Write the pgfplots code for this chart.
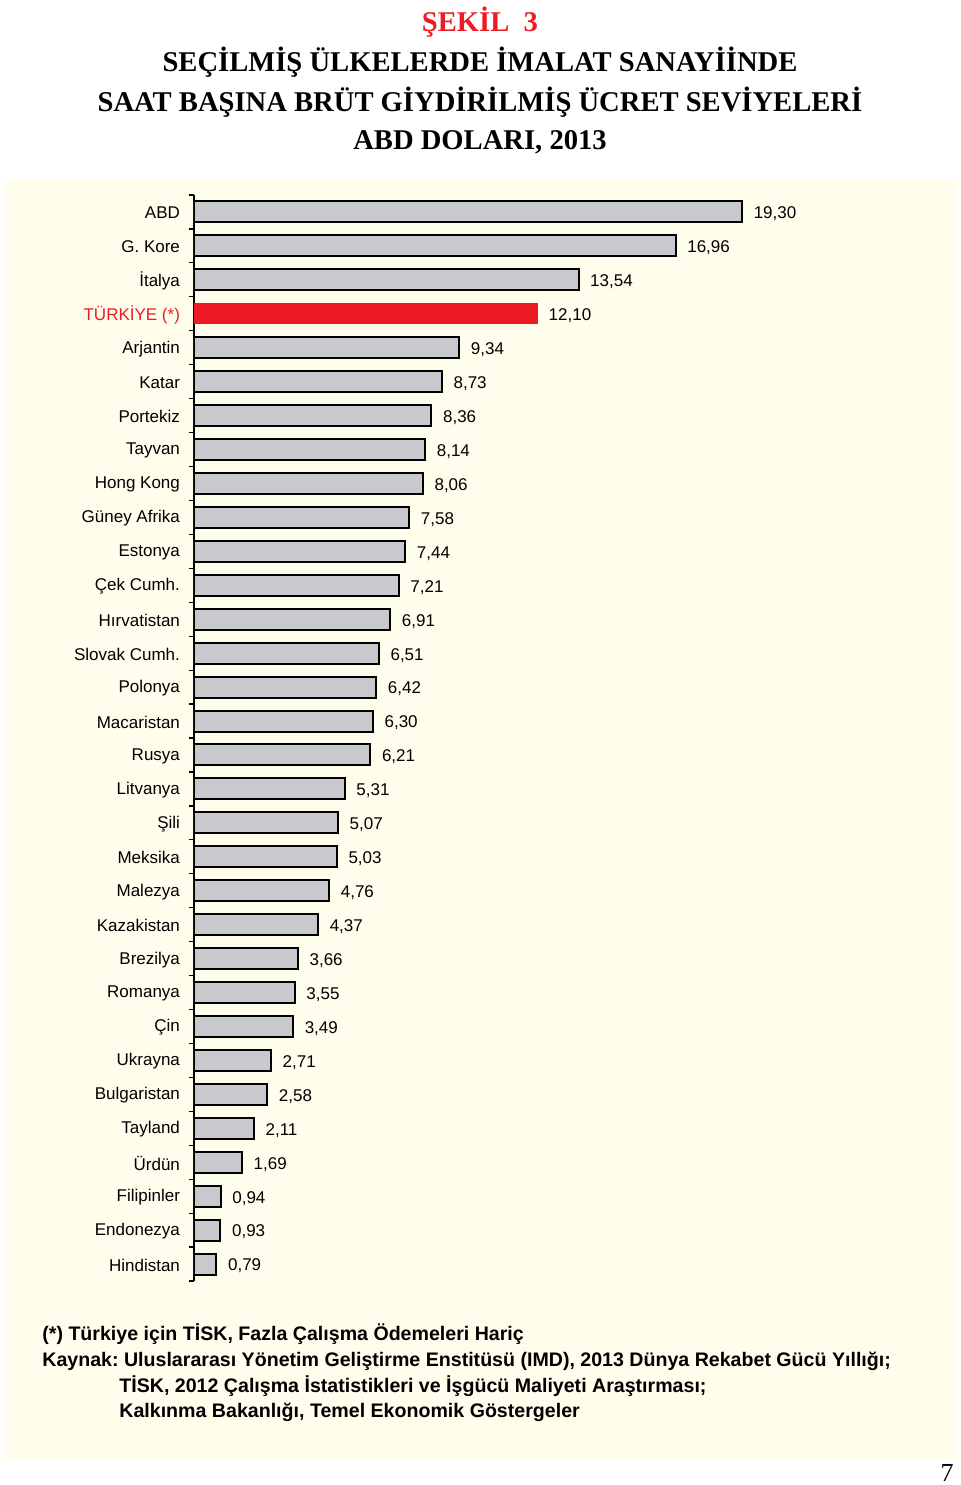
\documentclass[border=0pt]{standalone}
\usepackage{pgfplots}
\pgfplotsset{compat=1.18}
\usepackage{fontspec}
\setmainfont{Liberation Sans}
\newfontfamily\titlefont{Liberation Serif}
\newfontfamily\notefont{Liberation Sans}
\definecolor{bg}{RGB}{255,253,235}
\definecolor{barg}{RGB}{200,201,205}
\definecolor{tred}{RGB}{237,28,36}
\frenchspacing
\pgfplotstableread{
i v
0 19.30
1 16.96
2 13.54
4 9.34
5 8.73
6 8.36
7 8.14
8 8.06
9 7.58
10 7.44
11 7.21
12 6.91
13 6.51
14 6.42
15 6.30
16 6.21
17 5.31
18 5.07
19 5.03
20 4.76
21 4.37
22 3.66
23 3.55
24 3.49
25 2.71
26 2.58
27 2.11
28 1.69
29 0.94
30 0.93
31 0.79
}\graydata
\pgfplotstableread{
i v
3 12.10
}\reddata
\begin{document}
\begin{tikzpicture}
\path[use as bounding box] (0,0) rectangle (480pt,-742.5pt);
\fill[white] (0,0) rectangle (480pt,-742.5pt);
\fill[bg] (2.5pt,-90pt) rectangle (478.5pt,-730pt);
\node[text=tred,font=\titlefont\bfseries\fontsize{14.3}{16}\selectfont] at (240pt,-11pt) {ŞEKİL\ \ 3};
\node[font=\titlefont\bfseries\fontsize{14.3}{16}\selectfont] at (240pt,-31pt) {SEÇİLMİŞ ÜLKELERDE İMALAT SANAYİİNDE};
\node[font=\titlefont\bfseries\fontsize{14.3}{16}\selectfont] at (240pt,-51pt) {SAAT BAŞINA BRÜT GİYDİRİLMİŞ ÜCRET SEVİYELERİ};
\node[font=\titlefont\bfseries\fontsize{14.3}{16}\selectfont] at (240pt,-71pt) {ABD DOLARI, 2013};
\begin{scope}[every node/.style={anchor=base west,inner sep=0pt,font=\notefont\bfseries\fontsize{9.8}{11}\selectfont}]
\node at (21pt,-670pt) {(*) Türkiye için TİSK, Fazla Çalışma Ödemeleri Hariç};
\node at (21pt,-683pt) {Kaynak: Uluslararası Yönetim Geliştirme Enstitüsü (IMD), 2013 Dünya Rekabet Gücü Yıllığı;};
\node at (59.5pt,-696pt) {TİSK, 2012 Çalışma İstatistikleri ve İşgücü Maliyeti Araştırması;};
\node at (59.5pt,-708.5pt) {Kalkınma Bakanlığı, Temel Ekonomik Göstergeler};
\end{scope}
\node[font=\titlefont\fontsize{13}{14}\selectfont,anchor=base,inner sep=0pt] at (473.5pt,-740.5pt) {7};
\begin{axis}[
  at={(97pt,-97.5pt)}, anchor=north west,
  scale only axis, width=355pt, height=543pt,
  xmin=0, xmax=25, ymin=-0.5, ymax=31.5,
  y dir=reverse,
  xbar, bar width=10.5pt, bar shift=0pt,
  hide x axis, axis y line*=left,
  ytick={0,...,31},
  yticklabels={ABD,G. Kore,İtalya,{\color{tred}TÜRKİYE (*)},Arjantin,Katar,Portekiz,Tayvan,Hong Kong,Güney Afrika,Estonya,Çek Cumh.,Hırvatistan,Slovak Cumh.,Polonya,Macaristan,Rusya,Litvanya,Şili,Meksika,Malezya,Kazakistan,Brezilya,Romanya,Çin,Ukrayna,Bulgaristan,Tayland,Ürdün,Filipinler,Endonezya,Hindistan},
  major tick length=0pt,
  minor ytick={-0.5,0.5,...,31.5},
  minor tick length=2.5pt,
  tick align=outside,
  y axis line style={line width=0.6pt},
  every minor tick/.style={line width=0.6pt,black},
  yticklabel style={font=\fontsize{8.5}{10}\selectfont, xshift=-3.5pt, yshift=-0.5pt},
  point meta=x,
  nodes near coords,
  nodes near coords style={font=\fontsize{8.5}{10}\selectfont, anchor=west, xshift=2pt, yshift=-1pt, text=black},
  /pgf/number format/.cd, use comma, fixed, fixed zerofill, precision=2, assume math mode=true
]
\addplot[draw=black, line width=1pt, fill=barg] table[x=v,y=i] {\graydata};
\addplot[draw=none, fill=tred] table[x=v,y=i] {\reddata};
\end{axis}
\end{tikzpicture}
\end{document}
